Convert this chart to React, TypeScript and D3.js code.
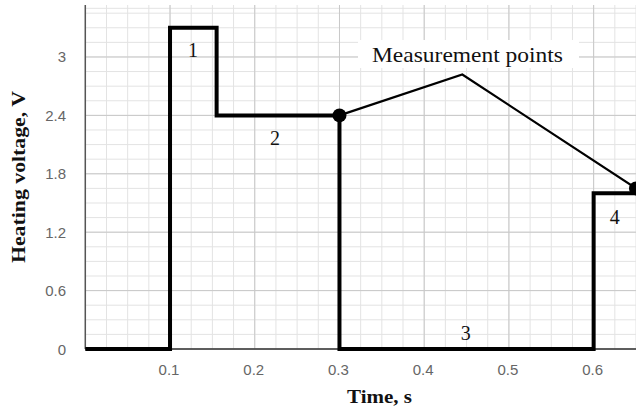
import React from "react";
import * as d3 from "d3";

const W = 636;
const H = 412;

const xTicks = [0.1, 0.2, 0.3, 0.4, 0.5, 0.6];
const yTicks = [0, 0.6, 1.2, 1.8, 2.4, 3];
const yTickLabels = ["0", "0.6", "1.2", "1.8", "2.4", "3"];
const xTickLabels = ["0.1", "0.2", "0.3", "0.4", "0.5", "0.6"];

// heating voltage step profile (time s, voltage V)
const stepTimes = [0, 0.1, 0.1, 0.155, 0.155, 0.3, 0.3, 0.6, 0.6, 0.65];
const stepVolts = [0, 0, 3.3, 3.3, 2.4, 2.4, 0, 0, 1.6, 1.6];

// measurement points annotation line
const measTimes = [0.3, 0.445, 0.65];
const measVolts = [2.4, 2.82, 1.65];
const dotTimes = [0.3, 0.65];
const dotVolts = [2.4, 1.65];

const phaseLabels = ["1", "2", "3", "4"];
const phaseTimes = [0.127, 0.224, 0.449, 0.625];
const phaseVolts = [3.0, 2.1, 0.09, 1.28];

export default function App() {
  const x = d3.scaleLinear().domain([0, 0.65]).range([85.3, 636]);
  const y = d3.scaleLinear().domain([0, 3.5]).range([349, 8.3]);

  const minorX = d3.range(0, 0.651, 0.025).map((v) => +v.toFixed(3));
  const minorY = d3.range(0, 3.51, 0.15).map((v) => +v.toFixed(3));

  const stepLine = d3
    .line<number>()
    .x((_, i) => x(stepTimes[i]))
    .y((_, i) => y(stepVolts[i]));
  const measLine = d3
    .line<number>()
    .x((_, i) => x(measTimes[i]))
    .y((_, i) => y(measVolts[i]));

  const top = 5;
  return (
    <svg
      width={W}
      height={H}
      style={{ position: "absolute", left: 0, top: 0, background: "#fff" }}
    >
      <rect x={0} y={0} width={W} height={H} fill="#fff" />
      {/* minor grid */}
      {minorX.map((v, i) => (
        <line key={"mx" + i} x1={x(v)} x2={x(v)} y1={top} y2={y(0)} stroke="#e3e3e3" strokeWidth={1} />
      ))}
      {minorY.map((v, i) => (
        <line key={"my" + i} x1={x(0)} x2={W} y1={y(v)} y2={y(v)} stroke="#e3e3e3" strokeWidth={1} />
      ))}
      <line x1={x(0)} x2={W} y1={y(3.5)} y2={y(3.5)} stroke="#e3e3e3" strokeWidth={1} />
      {/* major grid */}
      {xTicks.map((v, i) => (
        <line key={"gx" + i} x1={x(v)} x2={x(v)} y1={top} y2={y(0)} stroke="#c8c8c8" strokeWidth={1} />
      ))}
      {yTicks.map((v, i) => (
        <line key={"gy" + i} x1={x(0)} x2={W} y1={y(v)} y2={y(v)} stroke="#c8c8c8" strokeWidth={1} />
      ))}
      {/* axes */}
      <line x1={x(0)} x2={x(0)} y1={top} y2={y(0)} stroke="#555" strokeWidth={1.5} />
      <line x1={x(0)} x2={W} y1={y(0)} y2={y(0)} stroke="#333" strokeWidth={1.5} />
      {/* tick labels */}
      {yTicks.map((v, i) => (
        <text
          key={"yl" + i}
          x={66}
          y={y(v) + 5.5}
          textAnchor="end"
          fontFamily="Liberation Sans, Arial, sans-serif"
          fontSize={15}
          fill="#666"
        >
          {yTickLabels[i]}
        </text>
      ))}
      {xTicks.map((v, i) => (
        <text
          key={"xl" + i}
          x={x(v) - 1}
          y={375}
          textAnchor="middle"
          fontFamily="Liberation Sans, Arial, sans-serif"
          fontSize={15}
          fill="#666"
        >
          {xTickLabels[i]}
        </text>
      ))}
      {/* axis titles */}
      <text
        x={379.5}
        y={403}
        textAnchor="middle"
        fontFamily="Liberation Serif, Times New Roman, serif"
        fontWeight="bold"
        fontSize={19}
        textLength={65}
        lengthAdjust="spacingAndGlyphs"
        fill="#111"
      >
        Time, s
      </text>
      <text
        transform="translate(25,177) rotate(-90)"
        textAnchor="middle"
        fontFamily="Liberation Serif, Times New Roman, serif"
        fontWeight="bold"
        fontSize={19}
        textLength={172}
        lengthAdjust="spacingAndGlyphs"
        fill="#111"
      >
        Heating voltage, V
      </text>
      {/* step profile */}
      <path d={stepLine(stepTimes) || ""} fill="none" stroke="#000" strokeWidth={4} strokeLinejoin="miter" />
      {/* measurement line */}
      <path d={measLine(measTimes) || ""} fill="none" stroke="#000" strokeWidth={2.2} />
      {dotTimes.map((t, i) => (
        <circle key={"d" + i} cx={x(t)} cy={y(dotVolts[i])} r={7} fill="#000" />
      ))}
      {/* annotation */}
      <rect x={358} y={40} width={221} height={28} fill="#fff" />
      <text
        x={372}
        y={62}
        fontFamily="Liberation Serif, Times New Roman, serif"
        fontSize={21}
        textLength={191}
        lengthAdjust="spacingAndGlyphs"
        fill="#111"
      >
        Measurement points
      </text>
      {phaseLabels.map((l, i) => (
        <text
          key={"p" + i}
          x={x(phaseTimes[i])}
          y={y(phaseVolts[i])}
          textAnchor="middle"
          fontFamily="Liberation Serif, Times New Roman, serif"
          fontSize={20}
          fill="#111"
        >
          {l}
        </text>
      ))}
    </svg>
  );
}
